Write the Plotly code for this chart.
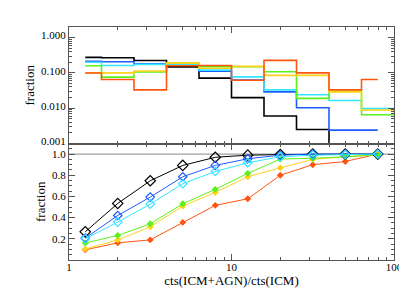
import plotly.graph_objects as go

# bin centres (log10 of ratio) -> ratio values
x_centers = [10 ** (0.1 + 0.2 * i) for i in range(10)]
x_extra = x_centers + [10 ** 2.1]

# top panel: fraction per bin
top_black = [0.276, 0.27, 0.225, 0.148, 0.071, 0.02, 0.006, 0.0025, 0, 0]
top_blue = [0.215, 0.208, 0.18, 0.17, 0.112, 0.063, 0.029, 0.0103, 0.0024, 0.0024]
top_cyan = [0.2, 0.163, 0.175, 0.175, 0.12, 0.077, 0.033, 0.024, 0.0166, 0.0097, 0.0097]
top_green = [0.16, 0.076, 0.106, 0.19, 0.15, 0.15, 0.108, 0.019, 0.03, 0.0065, 0.0065]
top_yellow = [0.1, 0.1, 0.113, 0.19, 0.135, 0.153, 0.085, 0.085, 0.029, 0.0089, 0.0089]
top_orange = [0.099, 0.065, 0.033, 0.16, 0.163, 0.062, 0.226, 0.1, 0.033, 0.065]

# bottom panel: cumulative fraction
cum_black = [0.266, 0.534, 0.748, 0.893, 0.97, 0.99, 0.995, 1.0, 1.0, 1.0]
cum_blue = [0.207, 0.42, 0.594, 0.786, 0.893, 0.956, 0.99, 1.0, 1.0, 1.0]
cum_cyan = [0.20, 0.358, 0.528, 0.72, 0.836, 0.918, 0.975, 0.99, 0.995, 1.0]
cum_green = [0.16, 0.232, 0.342, 0.531, 0.667, 0.818, 0.953, 0.96, 0.975, 0.99]
cum_yellow = [0.103, 0.19, 0.313, 0.509, 0.638, 0.786, 0.87, 0.95, 0.975, 1.0]
cum_orange = [0.096, 0.162, 0.19, 0.355, 0.516, 0.578, 0.80, 0.90, 0.93, 1.0]

y_tick_vals_top = [0.001, 0.01, 0.1, 1.0]
y_tick_text_top = ["0.001", "0.010", "0.100", "1.000"]
y_tick_vals_bot = [0.2, 0.4, 0.6, 0.8, 1.0]
x_tick_vals = [1, 10, 100]

colors = {
    "black": "#000000",
    "blue": "#1f5cff",
    "cyan": "#33e6ff",
    "green": "#5cf01c",
    "yellow": "#ffd21a",
    "orange": "#ff5511",
}

FLOOR = 1e-5


def log_minor(lo_exp, hi_exp):
    return [k * 10 ** e for e in range(lo_exp, hi_exp) for k in range(2, 10)]


x_minor = log_minor(0, 2)
y_minor_top = log_minor(-3, 1)
y_minor_bot = [round(0.05 * i, 2) for i in range(1, 23)]

fig = go.Figure()

top_series = [
    ("black", top_black, x_centers),
    ("blue", top_blue, x_centers),
    ("cyan", top_cyan, x_extra),
    ("green", top_green, x_extra),
    ("yellow", top_yellow, x_extra),
    ("orange", top_orange, x_centers),
]
for name, vals, xs in top_series:
    fig.add_trace(go.Scatter(
        x=xs, y=[max(v, FLOOR) for v in vals], mode="lines",
        line=dict(color=colors[name], width=1.6, shape="hvh"),
        xaxis="x", yaxis="y", showlegend=False, hoverinfo="skip",
    ))

# horizontal reference line at 1.0
fig.add_trace(go.Scatter(
    x=[1, 100], y=[1.0, 1.0], mode="lines",
    line=dict(color="#888888", width=1),
    xaxis="x2", yaxis="y2", showlegend=False, hoverinfo="skip",
))

bot_series = [
    ("orange", cum_orange, "diamond", 4),
    ("yellow", cum_yellow, "diamond", 4),
    ("green", cum_green, "diamond", 4),
    ("black", cum_black, "diamond-open", 8),
    ("blue", cum_blue, "diamond-open", 6.5),
    ("cyan", cum_cyan, "diamond-open", 6.5),
]
for name, vals, sym, sz in bot_series:
    fig.add_trace(go.Scatter(
        x=x_centers, y=vals, mode="lines+markers",
        line=dict(color=colors[name], width=1),
        marker=dict(symbol=sym, size=sz, color=colors[name],
                    line=dict(color=colors[name], width=1.2)),
        xaxis="x2", yaxis="y2", showlegend=False, hoverinfo="skip",
    ))

font = dict(family="Liberation Serif, Times New Roman, serif", size=11, color="#000")
axcol = "#555555"


def minor(vals, ln=3):
    return dict(ticks="inside", ticklen=ln, tickcolor=axcol, tickmode="array",
                tickvals=vals, showgrid=False)


common_x = dict(type="log", range=[0, 2], showgrid=False, zeroline=False,
                showline=True, linecolor=axcol, linewidth=1, mirror="ticks",
                ticks="inside", ticklen=6, tickcolor=axcol, tickvals=x_tick_vals,
                minor=minor(x_minor))

fig.update_layout(
    width=407, height=291,
    margin=dict(l=61, r=19, t=19, b=39),
    paper_bgcolor="white", plot_bgcolor="white",
    font=font,
    xaxis=dict(**common_x, domain=[0, 1], anchor="y", showticklabels=False),
    yaxis=dict(type="log", range=[-3, 0.301], domain=[0.5, 1], anchor="x",
               showgrid=False, zeroline=False, showline=True, linecolor=axcol,
               mirror="ticks", ticks="inside", ticklen=6, tickcolor=axcol,
               tickvals=y_tick_vals_top, ticktext=y_tick_text_top,
               ticklabelshift=-2,
               minor=minor(y_minor_top),
               title=dict(text="fraction", standoff=3)),
    xaxis2=dict(**common_x, domain=[0, 1], anchor="y2",
                ticktext=["1", "10", "100"], ticklabelstandoff=-3,
                title=dict(text="cts(ICM+AGN)/cts(ICM)", standoff=1)),
    yaxis2=dict(range=[0, 1.1], domain=[0, 0.5], anchor="x2",
                showgrid=False, zeroline=False, showline=True, linecolor=axcol,
                mirror="ticks", ticks="inside", ticklen=6, tickcolor=axcol,
                tickvals=y_tick_vals_bot, ticktext=["0.2", "0.4", "0.6", "0.8", "1.0"],
                minor=minor(y_minor_bot),
                title=dict(text="fraction", standoff=3)),
)

fig.write_html("out.html")
